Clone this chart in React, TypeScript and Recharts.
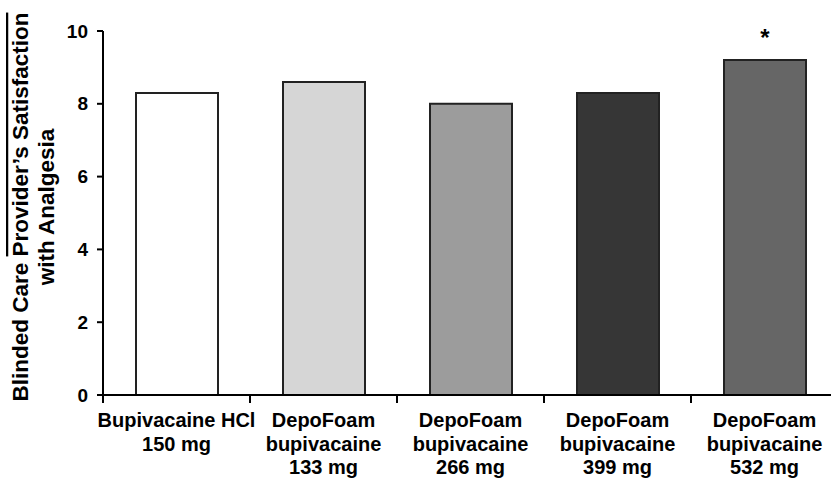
import { Bar, BarChart, Cell, LabelList, XAxis, YAxis } from "recharts";

// categories (line breaks mark the label rows)
const groups = [
  "Bupivacaine HCl\n150 mg",
  "DepoFoam\nbupivacaine\n133 mg",
  "DepoFoam\nbupivacaine\n266 mg",
  "DepoFoam\nbupivacaine\n399 mg",
  "DepoFoam\nbupivacaine\n532 mg",
];
const satisfaction = [8.3, 8.6, 8.0, 8.3, 9.2];
const significance = ["", "", "", "", "*"];
const yTicks = [0, 2, 4, 6, 8, 10];
const barColors = ["#ffffff", "#d6d6d6", "#9c9c9c", "#363636", "#666666"];

const data = groups.map((group, i) => ({
  group,
  value: satisfaction[i],
  mark: significance[i],
}));

const FONT = '"Liberation Sans", Arial, Helvetica, sans-serif';
const HALF_BAND = 73.5;

function GroupTick({ x, y, payload }: any) {
  const lines = String(payload.value).split("\n");
  return (
    <g>
      <line x1={x - HALF_BAND} x2={x - HALF_BAND} y1={y} y2={y + 8} stroke="#000" strokeWidth={2} />
      <text
        x={x}
        y={y + 32}
        textAnchor="middle"
        style={{ fontFamily: FONT, fontWeight: 700, fontSize: 20 }}
        fill="#000"
      >
        {lines.map((line, i) => (
          <tspan key={i} x={x} dy={i === 0 ? 0 : 23.5}>
            {line}
          </tspan>
        ))}
      </text>
    </g>
  );
}

function ValueTick({ x, y, payload }: any) {
  return (
    <text
      x={x}
      y={y}
      dy={6.5}
      textAnchor="end"
      style={{ fontFamily: FONT, fontWeight: 700, fontSize: 19 }}
      fill="#000"
    >
      {payload.value}
    </text>
  );
}

function SatisfactionLabel() {
  const cx = 28;
  const cy = 207;
  return (
    <text
      transform={`rotate(-90, ${cx}, ${cy})`}
      x={cx}
      y={cy}
      textAnchor="middle"
      style={{ fontFamily: FONT, fontWeight: 700, fontSize: 22.5 }}
      fill="#000"
    >
      <tspan x={cx} dy={0}>
        Blinded Care <tspan style={{ textDecoration: "overline" }}>Provider’s Satisfaction</tspan>
      </tspan>
      <tspan x={cx} dy={26}>
        with Analgesia
      </tspan>
    </text>
  );
}

export default function App() {
  return (
    <div>
      <style>{"body{margin:0}"}</style>
      <BarChart
        width={831}
        height={478}
        data={data}
        margin={{ top: 31, right: -7, bottom: 0, left: 0 }}
        barCategoryGap={0}
      >
        <XAxis
          dataKey="group"
          interval={0}
          height={83}
          tickLine={false}
          tickSize={0}
          tickMargin={0}
          axisLine={{ stroke: "#000", strokeWidth: 2 }}
          tick={<GroupTick />}
        />
        <YAxis
          domain={[0, 10]}
          ticks={yTicks}
          width={103}
          tickSize={6}
          tickMargin={9}
          axisLine={{ stroke: "#000", strokeWidth: 2 }}
          tickLine={{ stroke: "#000", strokeWidth: 2 }}
          tick={<ValueTick />}
          label={<SatisfactionLabel />}
        />
        <Bar dataKey="value" barSize={82} stroke="#222" strokeWidth={2} isAnimationActive={false}>
          {data.map((d, i) => (
            <Cell key={d.group} fill={barColors[i]} />
          ))}
          <LabelList
            dataKey="mark"
            position="top"
            offset={14}
            fill="#000"
            style={{ fontFamily: FONT, fontWeight: 700, fontSize: 24 }}
          />
        </Bar>
      </BarChart>
    </div>
  );
}
